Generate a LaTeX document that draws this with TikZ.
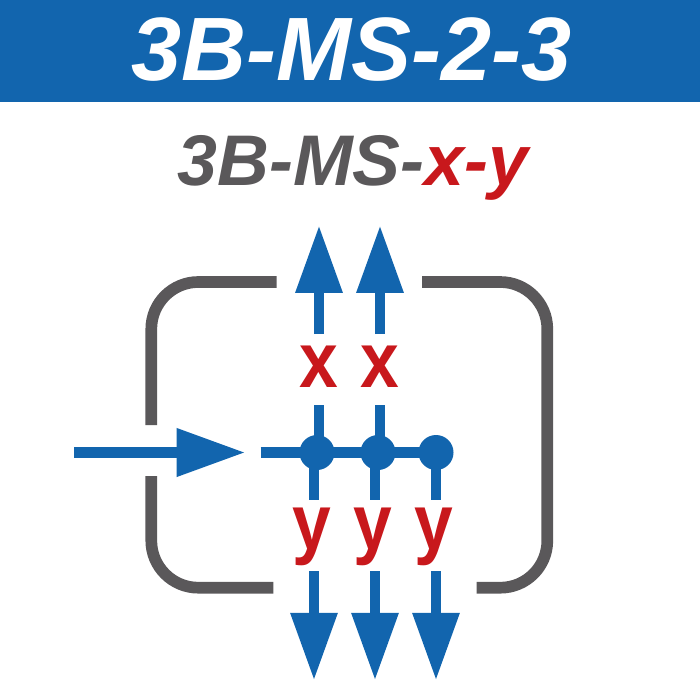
\documentclass[tikz,border=0pt]{standalone}
\usepackage{fontspec}
\setmainfont{Liberation Sans}
\usepackage{tikz}
\usetikzlibrary{arrows.meta}
\definecolor{bandblue}{HTML}{1265AE}
\definecolor{framegray}{HTML}{5A585A}
\definecolor{labelred}{HTML}{C8181C}
\newcommand{\tallletter}[1]{\scalebox{1}[1.13]{#1}}
\tikzset{
    flow/.style={line width=7.6pt, draw=bandblue},
    flowtip/.style={flow, -{Triangle[length=47pt, width=34pt, line width=0pt]}},
    frameline/.style={line width=8.3pt, draw=framegray},
    junction/.style={circle, fill=bandblue, inner sep=0pt, minimum size=0.875cm},
    letter/.style={font=\fontsize{49.5}{49.5}\selectfont\bfseries, text=labelred, inner sep=0pt},
}
\begin{document}
\begin{tikzpicture}[x=0.025cm, y=-0.025cm]
\useasboundingbox (0,0) rectangle (700,700);

        \fill[bandblue] (0,0) rectangle (700,102);
        \node (title) at (351.5,49.5) {\fontsize{64}{64}\selectfont\bfseries\itshape\textcolor{white}{3B-MS-2-3}};
        \node (name) at (353,168) {\fontsize{51}{51}\selectfont\bfseries\itshape\textcolor{framegray}{3B-MS-}\textcolor{labelred}{x-y}};

        % frame
        \draw[frameline] (276.5,282) -- (198.3,282) arc (270:180:47) -- (151.3,425);
        \draw[frameline] (151.3,476) -- (151.3,540.7) arc (180:90:47) -- (273.3,587.7);
        \draw[frameline] (422,282) -- (500.3,282) arc (-90:0:47) -- (547.3,540.7) arc (0:90:47) -- (476.7,587.7);

        % junctions
        \node[junction] (j1) at (317,452.5) {};
        \node[junction] (j2) at (378,452.5) {};
        \node[junction] (j3) at (436,452.5) {};

        % letters
        \node[letter] (x1) at (319,366.5) {\tallletter{x}};
        \node[letter] (x2) at (380,366.5) {\tallletter{x}};
        \node[letter] (y1) at (311.7,536.5) {\tallletter{y}};
        \node[letter] (y2) at (372.7,536.5) {\tallletter{y}};
        \node[letter] (y3) at (433.7,536.5) {\tallletter{y}};

        \coordinate (in0) at (74.3,452.5);
        \coordinate (in1) at (244,452.5);
        \coordinate (bus) at (260.7,452.5);
        \coordinate (u1) at (319,226.7);
        \coordinate (u2) at (380,226.7);
        \coordinate (d1) at (314,679);
        \coordinate (d2) at (375,679);
        \coordinate (d3) at (436,679);

        \draw[flow, -{Triangle[length=48pt, width=35pt, line width=0pt]}] (in0) -- (in1);
        \draw[flow] (bus) -- (j3.center);
        \draw[flowtip] (u1 |- 0,334) -- (u1);
        \draw[flowtip] (u2 |- 0,334) -- (u2);
        \draw[flow] (u1 |- j1) -- (u1 |- 0,405);
        \draw[flow] (u2 |- j2) -- (u2 |- 0,405);
        \draw[flow] (d1 |- j1) -- (d1 |- 0,500.3);
        \draw[flow] (d2 |- j2) -- (d2 |- 0,500.3);
        \draw[flow] (d3 |- j3) -- (d3 |- 0,500.3);
        \draw[flowtip] (d1 |- 0,571.3) -- (d1);
        \draw[flowtip] (d2 |- 0,571.3) -- (d2);
        \draw[flowtip] (d3 |- 0,571.3) -- (d3);

\end{tikzpicture}
\end{document}
